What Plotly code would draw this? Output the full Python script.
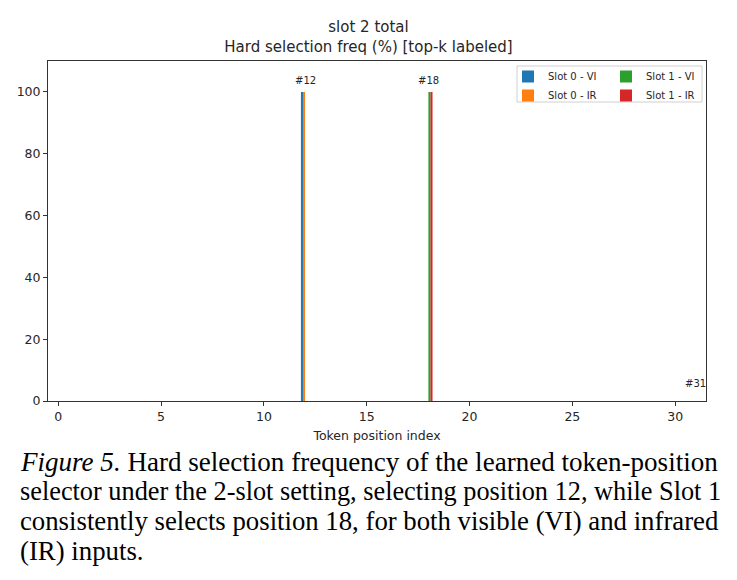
import plotly.graph_objects as go

# ---- data ----
positions = list(range(32))
slot0_vi = [0]*32; slot0_vi[12] = 100
slot0_ir = [0]*32; slot0_ir[12] = 100
slot1_vi = [0]*32; slot1_vi[18] = 100
slot1_ir = [0]*32; slot1_ir[18] = 100
series_names = ["Slot 0 - VI", "Slot 0 - IR", "Slot 1 - VI", "Slot 1 - IR"]
series_vals = [slot0_vi, slot0_ir, slot1_vi, slot1_ir]
topk_positions = [12, 18, 31]
x_ticks = [0, 5, 10, 15, 20, 25, 30]
y_ticks = [0, 20, 40, 60, 80, 100]
title_lines = ["slot 2 total", "Hard selection freq (%) [top-k labeled]"]
caption_lines = [
    "<i>Figure 5.</i> Hard selection frequency of the learned token-position",
    "selector under the 2-slot setting, selecting position 12, while Slot 1",
    "consistently selects position 18, for both visible (VI) and infrared",
    "(IR) inputs.",
]

# ---- styles ----
series_colors = ["#1f77b4", "#ff7f0e", "#2ca02c", "#d62728"]
series_legend = ["legend", "legend", "legend2", "legend2"]
caption_sizes = [27.05, 26.3, 26.75, 26.8]  # per-line size to mimic justified text

W, H = 737, 580
ML, MR, MT, MB = 48, 31, 61, 179
PW, PH = W - ML - MR, H - MT - MB

def px_x(x):
    return (x - ML) / PW

def px_y(y):
    return (H - MB - y) / PH

fig = go.Figure()
for name, vals, col, lg in zip(series_names, series_vals, series_colors, series_legend):
    fig.add_trace(go.Bar(x=positions, y=vals, name=name, marker_color=col,
                         marker_line_width=0, legend=lg))

tick_font = dict(family="DejaVu Sans", size=12.5, color="#262626")
fig.update_layout(
    width=W, height=H,
    margin=dict(l=ML, r=MR, t=MT, b=MB, autoexpand=False),
    paper_bgcolor="white", plot_bgcolor="white",
    barmode="group", bargap=0.6, bargroupgap=0,
    font=dict(family="DejaVu Sans", color="#262626"),
    title=dict(text="<br>".join(title_lines), x=px_x(377), xanchor="center",
               y=1 - 32 / H, yanchor="top", font=dict(size=15, color="#262626")),
    showlegend=True,
    legend=dict(x=px_x(508), y=px_y(62), xanchor="left", yanchor="top",
                bgcolor="rgba(0,0,0,0)", font=dict(size=10), tracegroupgap=0,
                itemwidth=30),
    legend2=dict(x=px_x(606), y=px_y(62), xanchor="left", yanchor="top",
                 bgcolor="rgba(0,0,0,0)", font=dict(size=10), tracegroupgap=0,
                 itemwidth=30),
)
fig.update_xaxes(range=[-0.5, 31.5], tickvals=x_ticks, ticks="outside", ticklen=4,
                 tickcolor="#333", showline=True, linecolor="#333", linewidth=1,
                 mirror=True, showgrid=False, zeroline=False, tickfont=tick_font,
                 title=dict(text="Token position index", font=dict(size=12.5, color="#262626"),
                            standoff=8))
fig.update_yaxes(range=[0, 110], tickvals=y_ticks, ticks="outside", ticklen=4,
                 tickcolor="#333", showline=True, linecolor="#333", linewidth=1,
                 mirror=True, showgrid=False, zeroline=False, tickfont=tick_font)

# legend frame
fig.add_shape(type="rect", xref="paper", yref="paper",
              x0=px_x(517), x1=px_x(702), y0=px_y(102), y1=px_y(66),
              line=dict(color="#d0d0d0", width=1), fillcolor="rgba(255,255,255,0.8)",
              layer="below")

# top-k labels (placed just above the tallest bar at each labeled position)
for p in topk_positions:
    top = max(v[p] for v in series_vals)
    fig.add_annotation(x=p, y=max(top, 2) + 2, text="#%d" % p,
                       showarrow=False, yanchor="bottom", yshift=-2,
                       font=dict(size=10, color="#262626"))

# caption
for i, (line, fs) in enumerate(zip(caption_lines, caption_sizes)):
    fig.add_annotation(x=px_x(18), y=px_y(462 + 29.7 * i), xref="paper", yref="paper",
                       text=line, showarrow=False, xanchor="left", yanchor="middle",
                       align="left",
                       font=dict(family="Liberation Serif", size=fs, color="black"))

fig.write_html("out.html")
